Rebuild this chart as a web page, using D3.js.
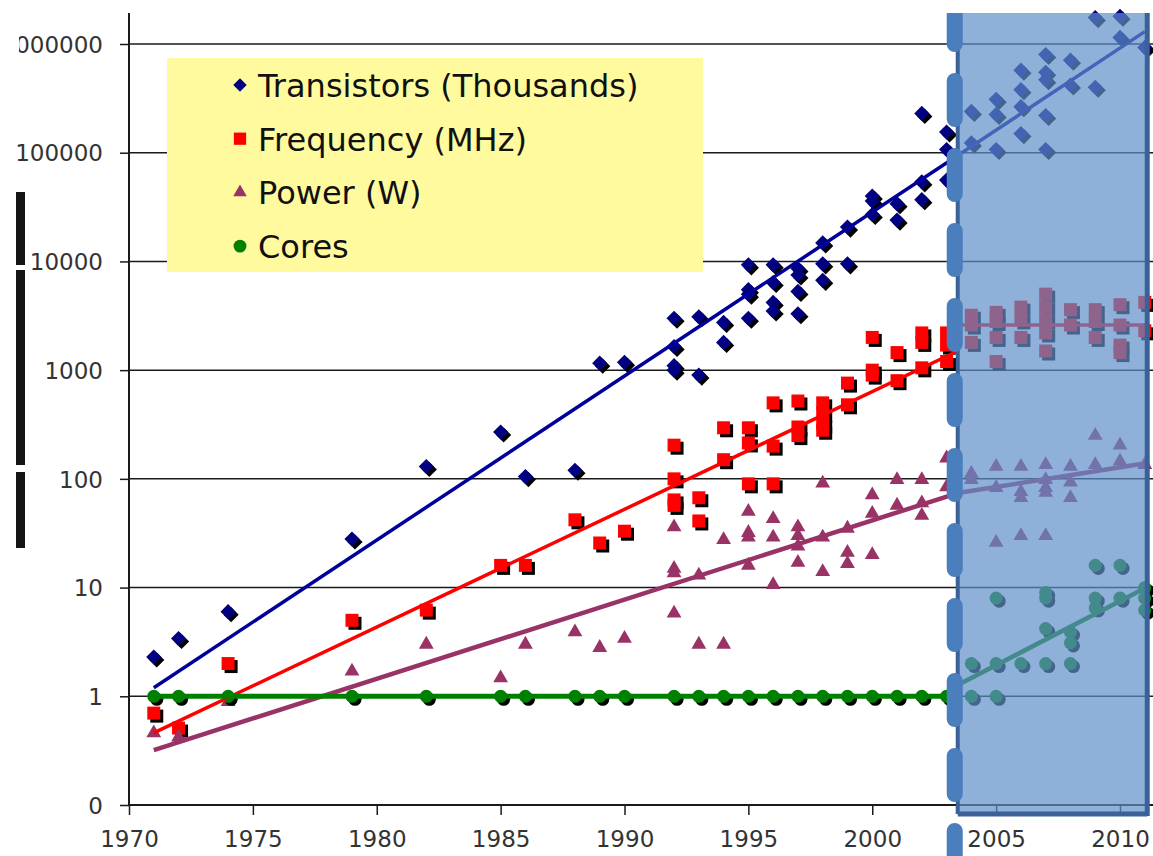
<!DOCTYPE html>
<html>
<head>
<meta charset="utf-8">
<script src="https://cdn.jsdelivr.net/npm/d3@7"></script>
<style>
  body { margin: 0; background: #fff; overflow: hidden; }
  text { font-family: "DejaVu Sans", Verdana, sans-serif; }
</style>
</head>
<body>
<div id="chart"></div>
<script>
// ---- data: [year, value] ----
const transistors = [
  [1971, 2.3], [1972, 3.4], [1974, 6], [1979, 28], [1982, 130], [1985, 270], [1986, 105], [1988, 120],
  [1989, 1160], [1990, 1180], [1992, 3000], [1992, 1650], [1992, 1100], [1992, 1000], [1993, 3100], [1993, 900],
  [1994, 2750], [1994, 1800], [1995, 9300], [1995, 5500], [1995, 5000], [1995, 3000],
  [1996, 9300], [1996, 6400], [1996, 4200], [1996, 3500], [1997, 8600], [1997, 7500], [1997, 5300], [1997, 3300],
  [1998, 14800], [1998, 9500], [1998, 6700], [1999, 20700], [1999, 9500],
  [2000, 40000], [2000, 36000], [2000, 27000], [2001, 34000], [2001, 24000],
  [2002, 230000], [2002, 54000], [2002, 37000], [2003, 155000], [2003, 107000], [2003, 56000],
  [2004, 123000], [2004, 240000], [2005, 310000], [2005, 225000], [2005, 107000],
  [2006, 575000], [2006, 380000], [2006, 265000], [2006, 150000],
  [2007, 800000], [2007, 550000], [2007, 470000], [2007, 220000], [2007, 107000],
  [2008, 710000], [2008, 420000], [2009, 400000], [2009, 1750000], [2010, 1800000], [2010, 1150000], [2011, 930000]
];
const frequency = [
  [1971, 0.7], [1972, 0.51], [1974, 2.0], [1979, 5.0], [1982, 6.2], [1985, 16], [1986, 16], [1988, 42],
  [1989, 25.7], [1990, 33], [1992, 204], [1992, 100], [1992, 64], [1992, 57], [1993, 67], [1993, 41],
  [1994, 295], [1994, 150], [1995, 295], [1995, 214], [1995, 90], [1996, 500], [1996, 200], [1996, 90],
  [1997, 520], [1997, 300], [1997, 250], [1998, 500], [1998, 400], [1998, 320], [1998, 280],
  [1999, 760], [1999, 480], [2000, 2000], [2000, 1000], [2000, 900], [2001, 1450], [2001, 800],
  [2002, 2200], [2002, 1800], [2002, 1050], [2003, 2200], [2003, 1700], [2003, 1200],
  [2004, 3200], [2004, 2600], [2004, 1800], [2005, 3400], [2005, 2800], [2005, 2000], [2005, 1200],
  [2006, 3800], [2006, 2900], [2006, 2000], [2007, 5000], [2007, 3800], [2007, 2900], [2007, 2200], [2007, 1500],
  [2008, 3600], [2008, 2600], [2009, 3600], [2009, 2800], [2009, 2000],
  [2010, 4000], [2010, 2600], [2010, 1700], [2010, 1450], [2011, 4200], [2011, 2300]
];
const power = [
  [1971, 0.46], [1972, 0.42], [1974, 0.89], [1979, 1.7], [1982, 3.0], [1985, 1.47], [1986, 3.0], [1988, 3.9],
  [1989, 2.8], [1990, 3.4], [1992, 36], [1992, 15], [1992, 13.6], [1992, 5.8], [1993, 13], [1993, 3.0],
  [1994, 27.5], [1994, 3.0], [1995, 50], [1995, 32], [1995, 29], [1995, 16], [1996, 43], [1996, 29], [1996, 10.6],
  [1997, 36], [1997, 30], [1997, 24], [1997, 17], [1998, 91], [1998, 29], [1998, 14],
  [1999, 35], [1999, 21], [1999, 16.6], [2000, 71], [2000, 48], [2000, 20], [2001, 98], [2001, 57],
  [2002, 98], [2002, 60], [2002, 46], [2003, 155], [2003, 84],
  [2004, 112], [2004, 98], [2005, 130], [2005, 83], [2005, 26], [2006, 130], [2006, 76], [2006, 67], [2006, 30],
  [2007, 135], [2007, 98], [2007, 83], [2007, 75], [2007, 30], [2008, 130], [2008, 93], [2008, 67],
  [2009, 250], [2009, 135], [2010, 204], [2010, 145], [2011, 135]
];
const cores = [
  [1971, 1], [1972, 1], [1974, 1], [1979, 1], [1982, 1], [1985, 1], [1986, 1], [1988, 1], [1989, 1], [1990, 1],
  [1992, 1], [1993, 1], [1994, 1], [1995, 1], [1996, 1], [1997, 1], [1998, 1], [1999, 1], [2000, 1],
  [2001, 1], [2002, 1], [2003, 1],
  [2004, 1], [2004, 2], [2005, 1], [2005, 2], [2005, 8], [2006, 2], [2007, 9], [2007, 8], [2007, 4.2], [2007, 2],
  [2008, 3.9], [2008, 3.1], [2008, 2], [2009, 16], [2009, 8], [2009, 6.5], [2010, 16], [2010, 8],
  [2011, 10], [2011, 8], [2011, 6.2]
];

// trend lines (end points)
const transTrend = [[1971, 1.2], [2011, 1.3e6]];
const freqTrend = [[1971, 0.46], [2003.45, 1500]];
const freqTrendLate = [[2003.45, 2600], [2011.1, 2600]];
const powerTrend = [[1971, 0.32], [2003.45, 74]];
const powerTrendLate = [[2003.45, 74], [2011.1, 140]];
const coresTrend = [[1971, 1], [2003.45, 1]];
const coresTrendLate = [[2003.45, 1.27], [2011.1, 10.1]];

const shadeYears = [2003.45, 2011.1];

const yTicks = [0.1, 1, 10, 100, 1000, 10000, 100000, 1000000];
const yLabels = ["0", "1", "10", "100", "1000", "10000", "100000", "1000000"];
const xTicks = [1970, 1975, 1980, 1985, 1990, 1995, 2000, 2005, 2010];

const legendItems = ["Transistors (Thousands)", "Frequency (MHz)", "Power (W)", "Cores"];

// ---- drawing ----
const W = 1153, H = 856;
const x = d3.scaleLinear().domain([1970, 2010]).range([129, 1120]);
const y = d3.scaleLog().domain([0.1, 1e6]).range([805, 44]);
const plotTop = 13;

const svg = d3.select("#chart").append("svg")
  .attr("width", W).attr("height", H);

// horizontal grid
svg.append("g").selectAll("line")
  .data(yTicks.slice(1))
  .enter().append("line")
  .attr("x1", x(1970)).attr("x2", W)
  .attr("y1", d => y(d)).attr("y2", d => y(d))
  .attr("stroke", "#1a1a1a").attr("stroke-width", 1.5);

// axes
const yAxis = svg.append("g")
  .attr("transform", `translate(${x(1970)},0)`)
  .call(d3.axisLeft(y).tickValues(yTicks).tickFormat((d, i) => yLabels[i]).tickSize(9).tickPadding(17));
yAxis.select(".domain").remove();
yAxis.selectAll("line").attr("stroke", "#1a1a1a").attr("stroke-width", 1.5);
yAxis.selectAll("text").attr("font-size", 23).attr("fill", "#333").attr("dy", "0.36em");
yAxis.append("line")
  .attr("x1", 0).attr("x2", 0).attr("y1", plotTop).attr("y2", y(0.1))
  .attr("stroke", "#1a1a1a").attr("stroke-width", 2);

const xAxis = svg.append("g")
  .attr("transform", `translate(0,${y(0.1)})`)
  .call(d3.axisBottom(x).tickValues(xTicks).tickFormat(d3.format("d")).tickSize(10).tickPadding(16));
xAxis.select(".domain").remove();
xAxis.selectAll("line").attr("stroke", "#1a1a1a").attr("stroke-width", 1.5);
xAxis.selectAll("text").attr("font-size", 23).attr("fill", "#333");
xAxis.append("line")
  .attr("x1", x(1970)).attr("x2", W).attr("y1", 0).attr("y2", 0)
  .attr("stroke", "#1a1a1a").attr("stroke-width", 2);

// markers
const sym = {
  diamond: d3.symbol().type(d3.symbolSquare).size(115),
  square: d3.symbol().type(d3.symbolSquare).size(169),
  triangle: d3.symbol().type(d3.symbolTriangle).size(95),
  circle: d3.symbol().type(d3.symbolCircle).size(135)
};
const series = [
  {data: transistors, shape: "diamond", color: "#000080", shadow: true},
  {data: frequency, shape: "square", color: "#ff0000", shadow: true},
  {data: power, shape: "triangle", color: "#993366", shadow: false},
  {data: cores, shape: "circle", color: "#008000", shadow: true}
];
const rot = s => s === "diamond" ? " rotate(45)" : "";

series.forEach(s => {
  const g = svg.append("g");
  if (s.shadow) {
    g.selectAll("path.sh").data(s.data).enter().append("path")
      .attr("class", "sh")
      .attr("d", sym[s.shape])
      .attr("transform", d => `translate(${x(d[0]) + 3},${y(d[1]) + 3})` + rot(s.shape))
      .attr("fill", "#000");
  }
  g.selectAll("path.mk").data(s.data).enter().append("path")
    .attr("class", "mk")
    .attr("d", sym[s.shape])
    .attr("transform", d => `translate(${x(d[0])},${y(d[1])})` + rot(s.shape))
    .attr("fill", s.color);
});

// trend lines
const line = d3.line().x(d => x(d[0])).y(d => y(d[1]));
[
  [transTrend, "#000099", 3.5],
  [freqTrend, "#ff0000", 3.5],
  [freqTrendLate, "#ff0000", 3.5],
  [powerTrend, "#993366", 4.5],
  [powerTrendLate, "#993366", 4.5],
  [coresTrend, "#008000", 5],
  [coresTrendLate, "#008000", 4.5]
].forEach(t => {
  svg.append("path").datum(t[0])
    .attr("d", line).attr("fill", "none")
    .attr("stroke", t[1]).attr("stroke-width", t[2]);
});

// shaded multicore era
const sx0 = x(shadeYears[0]), sx1 = x(shadeYears[1]);
const sBottom = y(0.1) + 9;
svg.append("rect")
  .attr("x", sx0).attr("y", plotTop)
  .attr("width", sx1 - sx0).attr("height", sBottom - plotTop)
  .attr("fill", "#5f8ec7").attr("fill-opacity", 0.7);
const frame = svg.append("g").attr("stroke", "#3a6298").attr("fill", "none");
frame.append("line").attr("x1", sx0).attr("x2", sx0).attr("y1", plotTop).attr("y2", sBottom).attr("stroke-width", 4);
frame.append("line").attr("x1", sx1).attr("x2", sx1).attr("y1", plotTop).attr("y2", sBottom + 2).attr("stroke-width", 5);
frame.append("line").attr("x1", sx0).attr("x2", sx1).attr("y1", sBottom).attr("y2", sBottom).attr("stroke-width", 5);

svg.append("clipPath").attr("id", "clipTop")
  .append("rect").attr("x", 0).attr("y", plotTop).attr("width", W).attr("height", H);
svg.append("line")
  .attr("clip-path", "url(#clipTop)")
  .attr("x1", sx0 - 3).attr("x2", sx0 - 3).attr("y1", plotTop).attr("y2", H + 10)
  .attr("stroke", "#4a7ebd").attr("stroke-width", 16)
  .attr("stroke-linecap", "round")
  .attr("stroke-dasharray", "38 37").attr("stroke-dashoffset", 7);

// legend
const lg = svg.append("g");
lg.append("rect")
  .attr("x", 167).attr("y", 58).attr("width", 536).attr("height", 214)
  .attr("fill", "#fffa9e");
const legendShapes = ["diamond", "square", "triangle", "circle"];
const legendColors = ["#000080", "#ff0000", "#993366", "#008000"];
const legendSym = {
  diamond: d3.symbol().type(d3.symbolSquare).size(90),
  square: d3.symbol().type(d3.symbolSquare).size(150),
  triangle: d3.symbol().type(d3.symbolTriangle).size(80),
  circle: d3.symbol().type(d3.symbolCircle).size(130)
};
const li = lg.selectAll("g.item").data(legendItems).enter().append("g")
  .attr("transform", (d, i) => `translate(240,${97 + i * 53.7})`);
li.append("path")
  .attr("d", (d, i) => legendSym[legendShapes[i]]())
  .attr("transform", (d, i) => "translate(0,-12)" + rot(legendShapes[i]))
  .attr("fill", (d, i) => legendColors[i]);
li.append("text")
  .attr("x", 18).attr("y", 0)
  .attr("font-size", 32).attr("fill", "#111")
  .text(d => d);

// cropped-slide artefacts at the left edge
svg.append("rect").attr("x", 0).attr("y", 22).attr("width", 19).attr("height", 46).attr("fill", "#fff");
const bars = [[192, 265], [270, 465], [472, 548]];
svg.append("g").selectAll("rect").data(bars).enter().append("rect")
  .attr("x", 16).attr("width", 9)
  .attr("y", d => d[0]).attr("height", d => d[1] - d[0])
  .attr("fill", "#141414");
</script>
</body>
</html>
